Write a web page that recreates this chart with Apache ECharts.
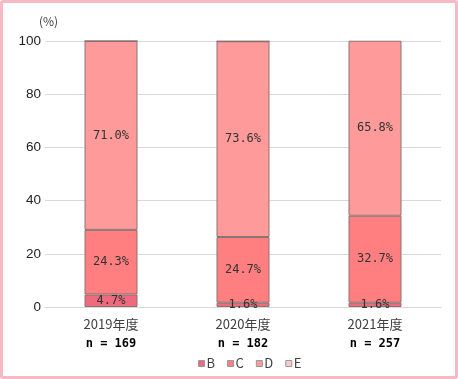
<!DOCTYPE html>
<html><head><meta charset="utf-8">
<script src="https://cdn.jsdelivr.net/npm/echarts@6/dist/echarts.min.js"></script>
<style>
html,body{margin:0;padding:0;background:#fff;}
#frame{position:absolute;left:0;top:0;width:458px;height:379px;box-sizing:border-box;border:3px solid #F7B9C4;border-radius:3px;background:#fff;}
#chart{position:absolute;left:0;top:0;width:458px;height:379px;}
</style></head>
<body>
<div id="frame"></div>
<div id="chart"></div>
<script>
const categories = ['2019年度', '2020年度', '2021年度'];
const sampleSizes = ['169', '182', '257'];
const seriesNames = ['B', 'C', 'D', 'E'];
const valuesB = [4.7, 1.6, 1.6];
const valuesC = [24.3, 24.7, 32.7];
const valuesD = [71.0, 73.6, 65.8];
const valuesE = [0, 0, 0];
const yTicks = [0, 20, 40, 60, 80, 100];

const colors = ['#EE6A7C', '#FF7F80', '#FF9A9A', '#FFC9CC'];
const allValues = [valuesB, valuesC, valuesD, valuesE];

const chart = echarts.init(document.getElementById('chart'), null, {renderer: 'canvas'});
const labelFont = "'Noto Sans CJK JP', 'DejaVu Sans', sans-serif";
const monoFont = "'DejaVu Sans Mono', 'Liberation Mono', monospace";
chart.setOption({
  animation: false,
  backgroundColor: 'transparent',
  grid: {left: 45, right: 17, top: 41, bottom: 72, containLabel: false},
  legend: {
    bottom: 4, left: 193,
    itemWidth: 6, itemHeight: 6, itemGap: 12,
    icon: 'rect',
    textStyle: {color: '#404040', fontSize: 13, fontFamily: labelFont, padding: [0, 0, 0, -3]},
    data: seriesNames.map((n, i) => ({name: n, itemStyle: {borderColor: '#999', borderWidth: 1}}))
  },
  xAxis: {
    type: 'category',
    data: categories.map((c, i) => c + '\n' + 'n = ' + sampleSizes[i]),
    axisLine: {show: true, lineStyle: {color: '#d9d9d9', width: 1}},
    axisTick: {show: false},
    axisLabel: {
      margin: 8,
      interval: 0,
      formatter: function (v) {
        const p = v.split('\n');
        return '{a|' + p[0] + '}\n{b|' + p[1] + '}';
      },
      rich: {
        a: {fontSize: 13, color: '#404040', fontFamily: labelFont, lineHeight: 19},
        b: {fontSize: 12, color: '#000', fontWeight: 'bold', fontFamily: monoFont, lineHeight: 19}
      }
    }
  },
  yAxis: {
    type: 'value', min: 0, max: 100, interval: 20,
    axisLine: {show: false}, axisTick: {show: false},
    splitLine: {lineStyle: {color: '#d9d9d9', width: 1}},
    axisLabel: {
      margin: 4, fontSize: 13.5, color: '#222',
      fontFamily: "'Liberation Sans', Arial, sans-serif",
      customValues: yTicks
    }
  },
  graphic: [{
    type: 'text', left: 39, top: 15,
    style: {text: '(%)', fontSize: 12, fill: '#404040', fontFamily: labelFont}
  }],
  series: seriesNames.map((n, i) => ({
    name: n, type: 'bar', stack: 'total',
    barWidth: 53,
    data: allValues[i],
    itemStyle: {color: colors[i], borderColor: '#8a7272', borderWidth: 1},
    label: {
      show: true, position: 'inside',
      color: '#333', fontSize: 12, fontFamily: monoFont,
      formatter: p => p.value > 0 ? p.value.toFixed(1) + '%' : ''
    }
  }))
});
</script>
</body></html>
